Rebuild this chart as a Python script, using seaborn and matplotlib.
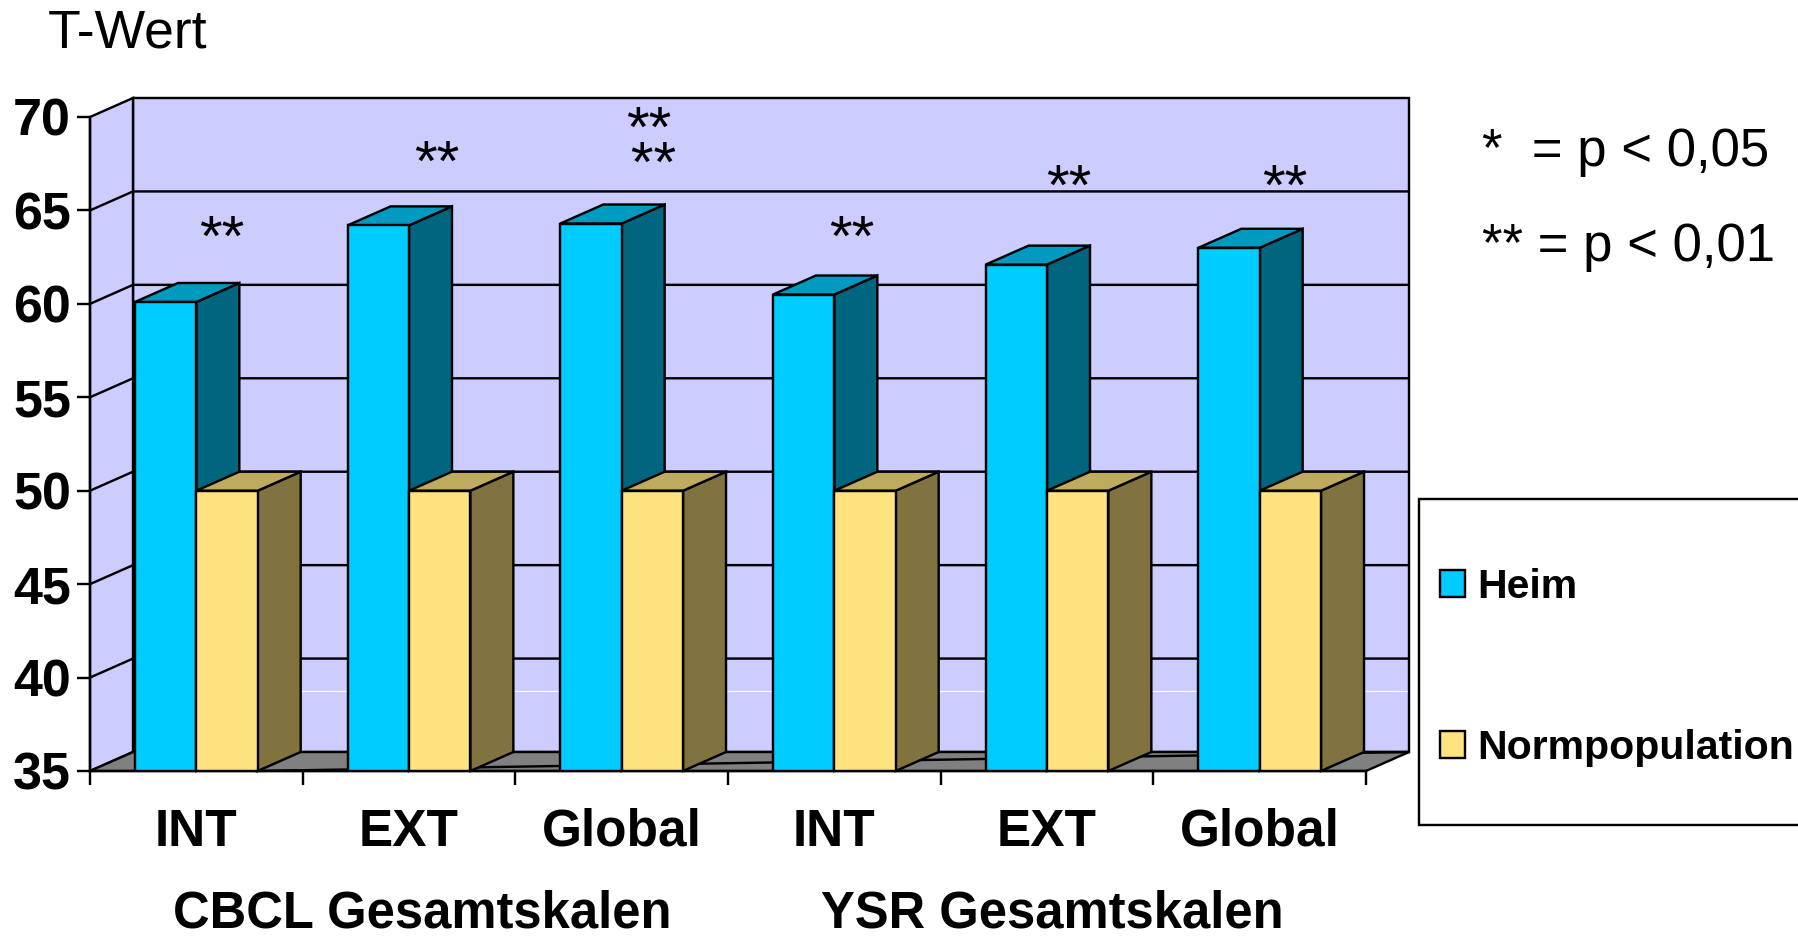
import pandas as pd
import seaborn as sns
from matplotlib import pyplot as plt
from matplotlib.patches import Polygon, Rectangle

# data
scales = ["CBCL INT", "CBCL EXT", "CBCL Global", "YSR INT", "YSR EXT", "YSR Global"]
scale_labels = ["INT", "EXT", "Global", "INT", "EXT", "Global"]
heim = [60.1, 64.2, 64.3, 60.5, 62.1, 63.0]
norm = [50.0, 50.0, 50.0, 50.0, 50.0, 50.0]
series_names = ["Heim", "Normpopulation"]
y_ticks = [35, 40, 45, 50, 55, 60, 65, 70]
star_text = ["**", "**", "**\n\u200a**", "**", "**", "**"]
star_x = [0.12, 1.13, 2.14, 3.08, 4.1, 5.12]
star_y = [63.4, 67.4, 68.25, 63.4, 66.1, 66.1]

W, H = 1798, 936
PX = 1 / 100 * 72  # one pixel in points

sns.set_style("white")
plt.rcParams['font.family'] = ['Liberation Sans', 'DejaVu Sans']
plt.rcParams['text.color'] = 'black'
plt.rcParams['xtick.color'] = 'black'
plt.rcParams['ytick.color'] = 'black'

fig = plt.figure(figsize=(W / 100, H / 100), dpi=100)
left, right, top, bottom = 90, 1366, 117, 771
ax = fig.add_axes([left / W, 1 - bottom / H, (right - left) / W, (bottom - top) / H])
lw = 2.4 * PX

df = pd.DataFrame({
    "scale": scales * 2,
    "series": [series_names[0]] * 6 + [series_names[1]] * 6,
    "value": heim + norm,
})
sns.barplot(data=df, x="scale", y="value", hue="series", ax=ax, width=0.577, gap=0,
            palette=["#00CCFF", "#FFE380"], saturation=1,
            edgecolor="black", linewidth=lw)
ax.set_xlim(-0.5, 5.5)
ax.set_ylim(35, 70)

# depth of the fake 3d box, in data units
dx = 43 / ((right - left) / 6)
dy = 19 / ((bottom - top) / 35)
x0, x1 = -0.5, 5.5

# walls, floor and gridlines
ax.add_patch(Polygon([(x0 + dx, 35 + dy), (x1 + dx, 35 + dy), (x1 + dx, 70 + dy), (x0 + dx, 70 + dy)],
                     fc="#CCCCFF", ec="black", lw=lw, clip_on=False, zorder=1))
ax.add_patch(Polygon([(x0, 35), (x0 + dx, 35 + dy), (x0 + dx, 70 + dy), (x0, 70)],
                     fc="#CCCCFF", ec="black", lw=lw, clip_on=False, zorder=1))
ax.add_patch(Polygon([(x0, 35), (x1, 35), (x1 + dx, 35 + dy), (x0 + dx, 35 + dy)],
                     fc="#808080", ec="black", lw=lw, clip_on=False, zorder=1.2))
for t in y_ticks[1:-1]:
    ax.plot([x0, x0 + dx, x1 + dx], [t, t + dy, t + dy], color="black", lw=lw,
            clip_on=False, zorder=1.1)
# thin white streak on the wall and the stray line across the floor
ax.plot([x0 + dx + 0.05, x1 + dx - 0.01], [39.28, 39.28], color="white", lw=0.8, clip_on=False, zorder=1.15)
ax.plot([0.276, x1 + dx], [35, 35 + dy], color="black", lw=lw, clip_on=False, zorder=1.3)

# side and top of every bar, painted from the back to the front
side_colors = ["#006680", "#807340"]
top_colors = ["#0099BF", "#BFAB60"]
order = 3
for i in range(6):
    for s, container in enumerate(ax.containers):
        bar = container[i]
        a, b = bar.get_x(), bar.get_x() + bar.get_width()
        v = bar.get_height()
        ax.add_patch(Polygon([(b, 35), (b + dx, 35 + dy), (b + dx, v + dy), (b, v)],
                             fc=side_colors[s], ec="black", lw=lw, clip_on=False, zorder=order))
        ax.add_patch(Polygon([(a, v), (b, v), (b + dx, v + dy), (a + dx, v + dy)],
                             fc=top_colors[s], ec="black", lw=lw, clip_on=False, zorder=order))
        bar.set_zorder(order + 0.5)
        order += 1

for x, y, s in zip(star_x, star_y, star_text):
    ax.text(x, y, s, fontsize=42, ha="center", va="center", ma="left",
            linespacing=0.55, zorder=50)

# axes
sns.despine(ax=ax, top=True, right=True)
for name in ["left", "bottom"]:
    ax.spines[name].set_color("black")
    ax.spines[name].set_linewidth(lw)
    ax.spines[name].set_zorder(100)
ax.set_xlabel("")
ax.set_ylabel("")
ax.set_yticks(y_ticks)
ax.tick_params(axis="y", left=True, length=13 * PX, width=lw, pad=6 * PX, labelsize=37.5)
for lab in ax.get_yticklabels():
    lab.set_fontweight("bold")
ax.set_xticks([i - 0.5 for i in range(7)])
ax.set_xticklabels([])
ax.tick_params(axis="x", bottom=True, length=14 * PX, width=lw)
ax.set_xticks(range(6), labels=scale_labels, minor=True)
ax.tick_params(axis="x", which="minor", bottom=False, length=0, pad=37 * PX, labelsize=37)
for lab in ax.get_xticklabels(minor=True):
    lab.set_fontweight("bold")

# free text
fig.text(48 / W, 1 - 34 / H, "T-Wert", fontsize=38.5, ha="left", va="center")
fig.text(422 / W, 1 - 909 / H, "CBCL Gesamtskalen", fontsize=36.5, fontweight="bold", ha="center", va="center_baseline")
fig.text(1052 / W, 1 - 909 / H, "YSR Gesamtskalen", fontsize=36.5, fontweight="bold", ha="center", va="center_baseline")
fig.text(1482 / W, 1 - 152 / H, "*  = p < 0,05", fontsize=38, ha="left", va="center")
fig.text(1482 / W, 1 - 247 / H, "** = p < 0,01", fontsize=38, ha="left", va="center")

# legend box runs off the right edge like in the original
fig.add_artist(Rectangle((1419 / W, 1 - 825 / H), 500 / W, 326 / H, transform=fig.transFigure,
                         fc="white", ec="black", lw=lw, zorder=-1))
handles, labels = ax.get_legend_handles_labels()
ax.legend(handles, labels, loc="upper left", bbox_to_anchor=(1440 / W, 1 - 568 / H),
          bbox_transform=fig.transFigure, frameon=False, borderpad=0,
          borderaxespad=0, handlelength=0.61, handleheight=0.61, handletextpad=0.29,
          labelspacing=3.0, prop={"weight": "bold", "size": 29.5})

fig.savefig("out.png", dpi=100)
